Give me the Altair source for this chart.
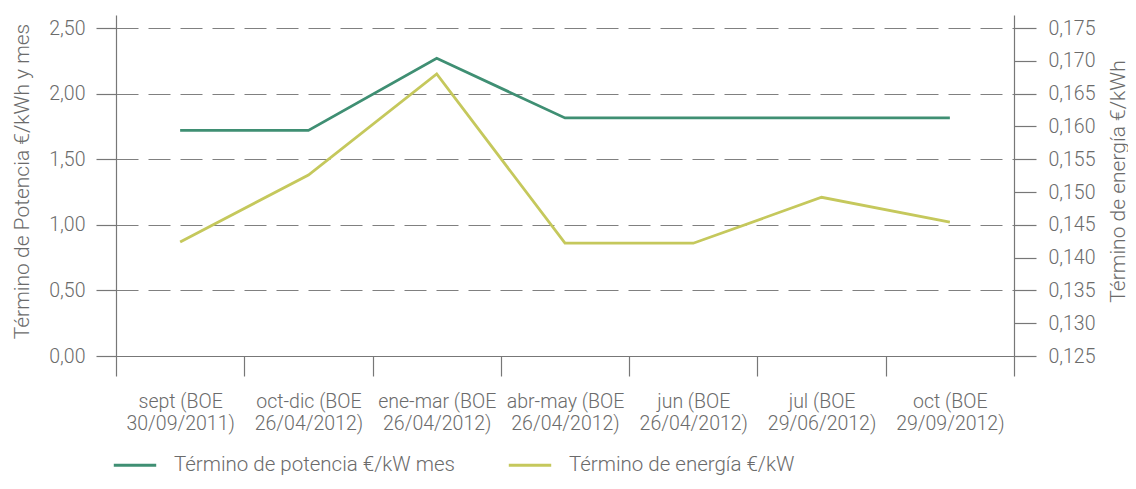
import altair as alt
import pandas as pd

categories = [
    "sept (BOE\n30/09/2011)",
    "oct-dic (BOE\n26/04/2012)",
    "ene-mar (BOE\n26/04/2012)",
    "abr-may (BOE\n26/04/2012)",
    "jun (BOE\n26/04/2012)",
    "jul (BOE\n29/06/2012)",
    "oct (BOE\n29/09/2012)",
]
potencia = [1.72, 1.72, 2.27, 1.815, 1.815, 1.815, 1.815]
energia = [0.1424, 0.1526, 0.1680, 0.1422, 0.1422, 0.1492, 0.1454]

series_names = ["Término de potencia €/kW mes", "Término de energía €/kW"]
series_colors = ["#3f8f73", "#c5c85c"]

left_ticks = [0, 0.5, 1.0, 1.5, 2.0, 2.5]
right_ticks = [0.125, 0.13, 0.135, 0.14, 0.145, 0.15, 0.155, 0.16, 0.165, 0.17, 0.175]

df = pd.DataFrame({"cat": categories, "potencia": potencia, "energia": energia})

FONT = "Roboto"
FS = 19.5
TFS = 21
LFS = 20.5
TXT = "#6b6b6b"
AX = "#777777"

x_enc = alt.X(
    "cat:N",
    sort=categories,
    bandPosition=0.5,
    scale=alt.Scale(type="band", paddingInner=0, paddingOuter=0),
    axis=alt.Axis(
        title=None,
        tickBand="extent",
        tickSize=20,
        labelAngle=0,
        labelExpr="split(datum.label, '\\n')",
        labelLineHeight=22,
        labelPadding=16,
        labelBaseline="top",
        grid=False,
    ),
)

color_scale = alt.Scale(domain=series_names, range=series_colors)

green = alt.Chart(df).mark_line(strokeWidth=2.8).encode(
    x=x_enc,
    y=alt.Y(
        "potencia:Q",
        scale=alt.Scale(domain=[0, 2.6], nice=False, zero=False),
        axis=alt.Axis(
            title="Término de Potencia €/kWh y mes",
            orient="left",
            values=left_ticks,
            labelExpr="replace(format(datum.value, '.2f'), '.', ',')",
            tickSize=20,
            labelPadding=11,
            grid=True,
            gridDash=[22, 10],
            gridColor="#808080",
            gridWidth=1.2,
            titleAngle=270,
            titleX=-94,
            titleY=166,
            titleAlign="center",
            titleBaseline="middle",
        ),
    ),
    color=alt.Color(
        "s:N",
        scale=color_scale,
        legend=alt.Legend(
            title=None,
            orient="none",
            legendX=-4,
            legendY=427,
            direction="horizontal",
            symbolType="stroke",
            symbolSize=1800,
            symbolStrokeWidth=3,
            labelOffset=16,
            columnPadding=47,
            labelFontSize=LFS,
            labelFont=FONT,
            labelFontWeight=300,
            labelColor=TXT,
            labelLimit=500,
            padding=0,
        ),
    ),
).transform_calculate(s=f"'{series_names[0]}'")

yellow = alt.Chart(df).mark_line(strokeWidth=2.8).encode(
    x=x_enc,
    y=alt.Y(
        "energia:Q",
        scale=alt.Scale(domain=[0.125, 0.177], nice=False, zero=False),
        axis=alt.Axis(
            title="Término de energía €/kWh",
            orient="right",
            values=right_ticks,
            labelExpr="replace(format(datum.value, '.3f'), '.', ',')",
            tickSize=22,
            labelPadding=12,
            grid=False,
            titleAngle=270,
            titleX=104,
            titleY=166,
            titleAlign="center",
            titleBaseline="middle",
        ),
    ),
    color=alt.Color("s:N", scale=color_scale),
).transform_calculate(s=f"'{series_names[1]}'")

chart = (
    alt.layer(green, yellow)
    .resolve_scale(y="independent")
    .properties(
        width=898,
        height=341,
        autosize=alt.AutoSizeParams(type="none"),
        padding={"left": 108, "top": 7, "right": 114, "bottom": 124},
    )
    .configure_view(stroke=None)
    .configure_axis(
        labelFont=FONT,
        labelFontSize=FS,
        labelFontWeight=300,
        labelColor=TXT,
        titleFont=FONT,
        titleFontSize=TFS,
        titleFontWeight=300,
        titleColor=TXT,
        domainColor=AX,
        tickColor=AX,
        domainWidth=1.2,
        tickWidth=1.2,
    )
)

chart.save("out.html", embed_options={"renderer": "svg", "actions": False})
